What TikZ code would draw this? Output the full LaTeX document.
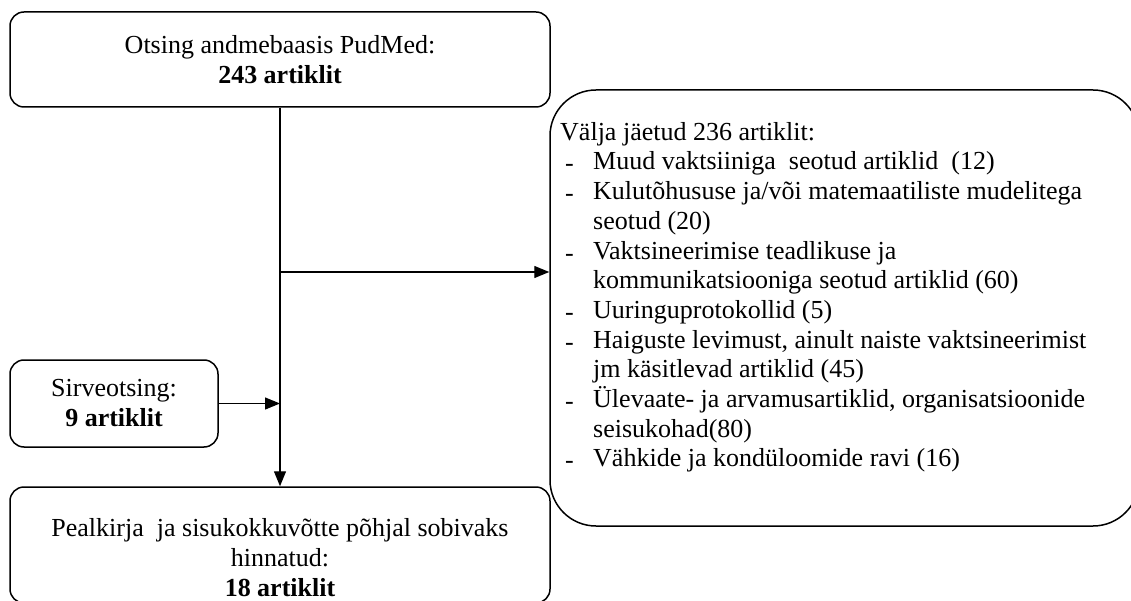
\documentclass[tikz,border=0pt]{standalone}
\usepackage{fontspec}
\setmainfont{Liberation Serif}
\usetikzlibrary{arrows.meta}
\newcommand{\itemdash}{\makebox[33pt][l]{\hspace{5pt}\raisebox{-2pt}{-}}}
\newcommand{\itemcont}{\hspace*{33pt}}
\begin{document}
\begin{tikzpicture}[x=1pt,y=-1pt,
    box/.style={draw, line width=1.5pt, rounded corners=14pt, inner sep=0pt},
    bigbox/.style={draw, line width=1.5pt, rounded corners=46pt, inner sep=0pt},
    txt/.style={font=\fontsize{26}{30}\selectfont, align=center, inner sep=0pt},
    conn/.style={line width=1.3pt},
    arr/.style={conn, -{Triangle[length=15pt,width=12pt]}}]
  \useasboundingbox (0,0) rectangle (1131,601);

  % boxes
  \node[box, txt, minimum width=540pt, minimum height=95pt] (search) at (280,59.5)
    {Otsing andmebaasis PudMed:\\\textbf{243 artiklit}};
  \node[box, txt, minimum width=208pt, minimum height=87pt] (browse) at (114,403.5)
    {Sirveotsing:\\\textbf{9 artiklit}};
  \node[box, minimum width=540pt, minimum height=116pt] (result) at (280,545) {};
  \node[txt] (resulttext) at (280,557.5)
    {Pealkirja \ ja sisukokkuvõtte põhjal sobivaks\\hinnatud:\\\textbf{18 artiklit}};
  \node[bigbox, minimum width=589pt, minimum height=436pt] (excl) at (844.5,308) {};
  \node[txt, align=left, anchor=north west, font=\fontsize{26}{29.7}\selectfont]
    (excltext) at (560,122) {%
    Välja jäetud 236 artiklit:\\
    \itemdash Muud vaktsiiniga \ seotud artiklid \ (12)\\
    \itemdash Kulutõhususe ja/või matemaatiliste mudelitega\\
    \itemcont seotud (20)\\
    \itemdash Vaktsineerimise teadlikuse ja\\
    \itemcont kommunikatsiooniga seotud artiklid (60)\\
    \itemdash Uuringuprotokollid (5)\\
    \itemdash Haiguste levimust, ainult naiste vaktsineerimist\\
    \itemcont jm käsitlevad artiklid (45)\\
    \itemdash Ülevaate- ja arvamusartiklid, organisatsioonide\\
    \itemcont seisukohad(80)\\
    \itemdash Vähkide ja kondüloomide ravi (16)};

  % connectors
  \coordinate (split) at (search.south |- 0,272);
  \draw[arr] (search.south) -- (result.north);
  \draw[arr] (split) -- (split -| excl.west);
  \draw[arr] (browse.east) -- (browse.east -| search.south);
\end{tikzpicture}
\end{document}
